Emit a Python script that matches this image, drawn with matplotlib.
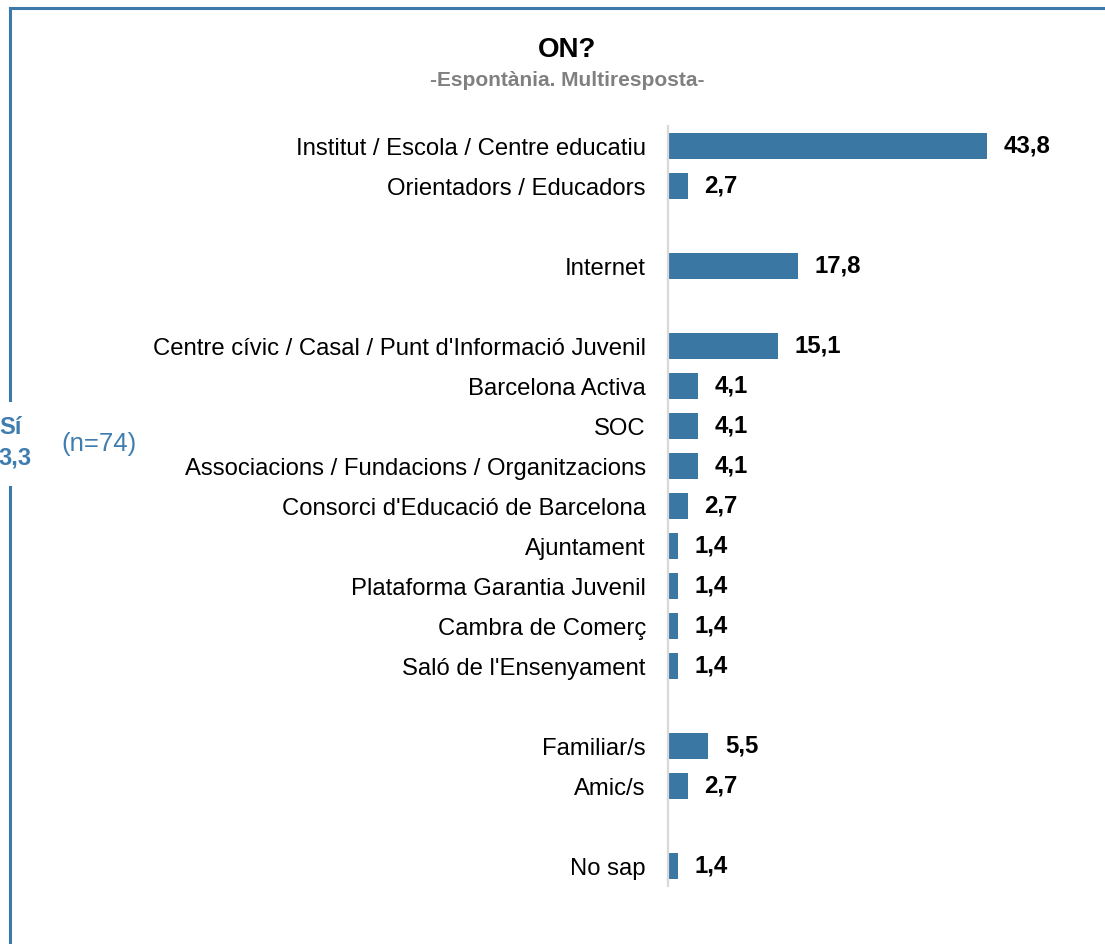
import matplotlib
matplotlib.use("Agg")
import matplotlib.pyplot as plt
from matplotlib.lines import Line2D

plt.rcParams["font.family"] = ["Liberation Sans", "DejaVu Sans"]

# --- data (blank entries = gaps between groups) ---
categories = [
    "Institut / Escola / Centre educatiu",
    "Orientadors / Educadors",
    "",
    "Internet",
    "",
    "Centre cívic / Casal / Punt d'Informació Juvenil",
    "Barcelona Activa",
    "SOC",
    "Associacions / Fundacions / Organitzacions",
    "Consorci d'Educació de Barcelona",
    "Ajuntament",
    "Plataforma Garantia Juvenil",
    "Cambra de Comerç",
    "Saló de l'Ensenyament",
    "",
    "Familiar/s",
    "Amic/s",
    "",
    "No sap",
]
values = [43.8, 2.7, None, 17.8, None, 15.1, 4.1, 4.1, 4.1, 2.7,
          1.4, 1.4, 1.4, 1.4, None, 5.5, 2.7, None, 1.4]

title = "ON?"
subtitle = "-Espontània. Multiresposta-"
side_label = "Sí"
side_value = "3,3"
side_n = "(n=74)"

BAR = "#3B77A3"
FRAME = "#3C78A8"
TXT_BLUE = "#3F7DB0"

W, H = 1105, 944
fig = plt.figure(figsize=(W / 100, H / 100), dpi=100)


def fx(px):
    return px / W


def fy(py):
    return 1 - py / H


# axes: value 0 at x=668, rows from y=126 to y=886
ax = fig.add_axes([fx(668), fy(886), 1 - fx(668), fy(126) - fy(886)])
pos = list(range(len(categories)))
for i, v in enumerate(values):
    if v is None:
        continue
    ax.barh(i, v, height=0.67, color=BAR)
    ax.text(v + 2.3, i, f"{v:.1f}".replace(".", ","), va="center", ha="left",
            fontsize=17.3, fontweight="bold", color="black")

ax.set_xlim(0, 60)
ax.set_ylim(len(categories) - 0.5, -0.5)
ax.set_yticks(pos)
ax.set_yticklabels(categories, fontsize=17.2)
ax.tick_params(axis="y", length=0, pad=16)
ax.set_xticks([])
for s in ["top", "right", "bottom"]:
    ax.spines[s].set_visible(False)
ax.spines["left"].set_color("#D9D9D9")
ax.spines["left"].set_linewidth(1.6)

# titles
fig.text(fx(567), fy(50), title, ha="center", va="center",
         fontsize=20, fontweight="bold", color="black")
fig.text(fx(567), fy(80), subtitle, ha="center", va="center",
         fontsize=15, fontweight="bold", color="#808080")

# frame (left side broken around the side label)
for xs, ys in [((10, W + 5), (8, 8)), ((10, 10), (8, 400)), ((10, 10), (487, H + 5))]:
    fig.add_artist(Line2D([fx(x) for x in xs], [fy(y) for y in ys],
                          color=FRAME, lw=2.2, transform=fig.transFigure))

fig.text(fx(22), fy(428), side_label, ha="right", va="center",
         fontsize=17, fontweight="bold", color=TXT_BLUE)
fig.text(fx(32), fy(458), side_value, ha="right", va="center",
         fontsize=17, fontweight="bold", color=TXT_BLUE)
fig.text(fx(99), fy(444), side_n, ha="center", va="center",
         fontsize=18.5, color=TXT_BLUE)

fig.savefig("out.png", dpi=100)
